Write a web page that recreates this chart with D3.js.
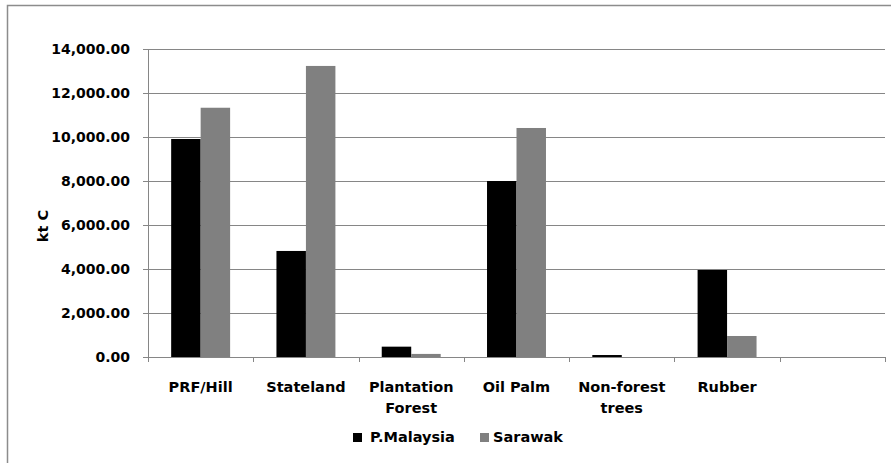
<!DOCTYPE html>
<html>
<head>
<meta charset="utf-8">
<script src="https://cdn.jsdelivr.net/npm/d3@7"></script>
<style>
  html, body { margin: 0; padding: 0; background: #fff; }
  svg { display: block; }
  text { font-family: "DejaVu Sans", sans-serif; font-weight: bold; fill: #000; }
</style>
</head>
<body>
<svg id="chart" width="891" height="463"></svg>
<script>
const categories = ["PRF/Hill", "Stateland", "Plantation\nForest", "Oil Palm", "Non-forest\ntrees", "Rubber", ""];
const seriesNames = ["P.Malaysia", "Sarawak"];
const pMalaysia = [9910, 4820, 470, 8000, 90, 3955, null];
const sarawak = [11330, 13230, 140, 10410, 0, 955, null];
const yTicks = [0, 2000, 4000, 6000, 8000, 10000, 12000, 14000];
const colors = ["#000000", "#808080"];

const svg = d3.select("#chart");
const W = 891, H = 463;
const plot = { left: 148, right: 885, top: 49, bottom: 357 };

// outer chart border
svg.append("rect")
  .attr("x", 7.5).attr("y", 5.5)
  .attr("width", W + 20).attr("height", H + 20)
  .attr("fill", "none").attr("stroke", "#8c8c8c").attr("stroke-width", 1.5);

const y = d3.scaleLinear().domain([0, 14000]).range([plot.bottom, plot.top]);
const x = d3.scaleBand().domain(d3.range(categories.length)).range([plot.left, plot.right]).padding(0);
const bw = x.bandwidth();
const gap = bw * 0.44;
const xs = d3.scaleBand().domain([0, 1]).range([gap / 2, bw - gap / 2]).padding(0);

// gridlines
svg.append("g").selectAll("line").data(yTicks).join("line")
  .attr("x1", plot.left - 5).attr("x2", plot.right)
  .attr("y1", d => Math.round(y(d)) + 0.5).attr("y2", d => Math.round(y(d)) + 0.5)
  .attr("stroke", "#868686").attr("stroke-width", 1);

// y axis line
svg.append("line")
  .attr("x1", plot.left + 0.5).attr("x2", plot.left + 0.5)
  .attr("y1", plot.top).attr("y2", plot.bottom + 5)
  .attr("stroke", "#868686");

// x ticks
svg.append("g").selectAll("line").data(d3.range(categories.length + 1)).join("line")
  .attr("x1", i => Math.round(plot.left + i * bw) + 0.5)
  .attr("x2", i => Math.round(plot.left + i * bw) + 0.5)
  .attr("y1", plot.bottom).attr("y2", plot.bottom + 5)
  .attr("stroke", "#868686");

// y tick labels
const fmt = d3.format(",.2f");
svg.append("g").selectAll("text").data(yTicks).join("text")
  .attr("x", 130).attr("y", d => y(d))
  .attr("dy", "0.36em")
  .attr("text-anchor", "end")
  .style("font-size", "14px")
  .text(d => fmt(d));

// y axis title
svg.append("text")
  .attr("transform", "translate(48,226) rotate(-90)")
  .attr("text-anchor", "middle")
  .style("font-size", "14.5px")
  .text("kt C");

// bars
const series = [pMalaysia, sarawak];
series.forEach((vals, si) => {
  svg.append("g").selectAll("rect").data(vals.map((v, i) => ({ v, i })).filter(d => d.v !== null && d.v > 0)).join("rect")
    .attr("x", d => x(d.i) + xs(si))
    .attr("width", xs.bandwidth())
    .attr("y", d => y(d.v))
    .attr("height", d => y(0) - y(d.v))
    .attr("fill", colors[si]);
});

// x labels
const xl = svg.append("g").selectAll("text").data(categories).join("text")
  .attr("x", (d, i) => x(i) + bw / 2)
  .attr("y", 392)
  .attr("text-anchor", "middle")
  .style("font-size", "14.5px");
xl.each(function(d) {
  const lines = d.split("\n");
  const t = d3.select(this);
  lines.forEach((ln, k) => {
    t.append("tspan").attr("x", t.attr("x")).attr("dy", k === 0 ? 0 : 21).text(ln);
  });
});

// legend
const legendX = [353, 480];
const legendTextX = [370, 493];
seriesNames.forEach((name, i) => {
  svg.append("rect").attr("x", legendX[i]).attr("y", 433).attr("width", 9).attr("height", 9).attr("fill", colors[i]);
  svg.append("text").attr("x", legendTextX[i]).attr("y", 442).style("font-size", "14.5px").text(name);
});
</script>
</body>
</html>
